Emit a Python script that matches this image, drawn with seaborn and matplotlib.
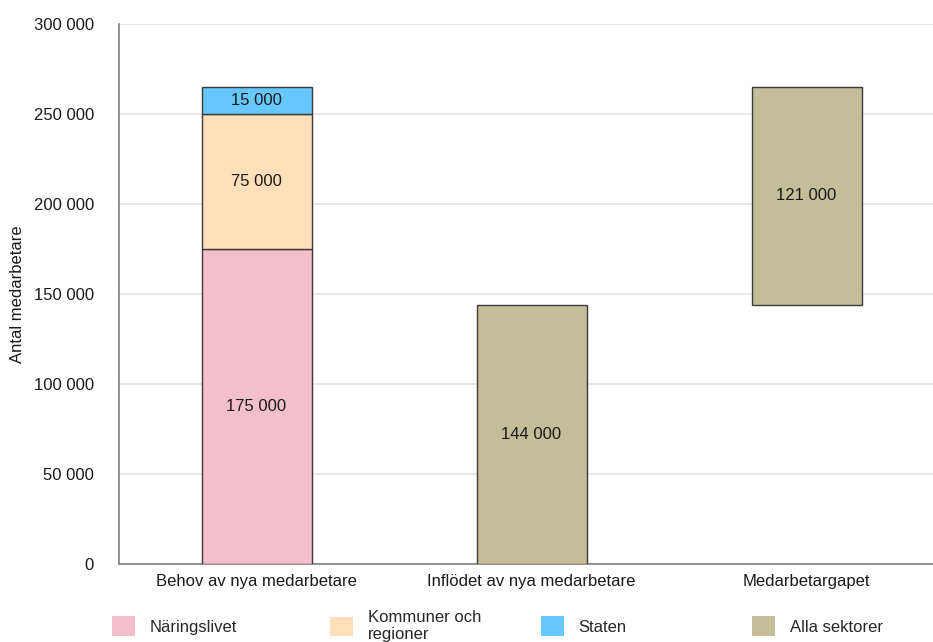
import matplotlib
matplotlib.use("Agg")
import matplotlib.pyplot as plt
import matplotlib.patches as mpatches
import matplotlib.ticker as mticker
import seaborn as sns
import pandas as pd

categories = ["Behov av nya medarbetare", "Inflödet av nya medarbetare", "Medarbetargapet"]
sectors = ["Näringslivet", "Kommuner och\nregioner", "Staten", "Alla sektorer"]
colors = ["#F3BFCC", "#FEDFB9", "#66C8FE", "#C4BD97"]

# segment values per category (stacked from bottom)
behov = [175000, 75000, 15000]
inflode = [144000]
gap_value = 121000
gap_base = 144000

y_ticks = [0, 50000, 100000, 150000, 200000, 250000, 300000]

FS = 12

sns.set_theme(style="white")
plt.rcParams["font.family"] = ["Liberation Sans", "DejaVu Sans"]

fig = plt.figure(figsize=(9.33, 6.42), dpi=100)
ax = fig.add_axes([119 / 933, 78 / 642, 1 - 119 / 933, 540 / 642])

rows = []
bottom = 0
for sec, v, c in zip(sectors[:3], behov, colors[:3]):
    rows.append(dict(cat=categories[0], sector=sec, value=v, bottom=bottom, color=c))
    bottom += v
rows.append(dict(cat=categories[1], sector=sectors[3], value=inflode[0], bottom=0, color=colors[3]))
rows.append(dict(cat=categories[2], sector=sectors[3], value=gap_value, bottom=gap_base, color=colors[3]))
df = pd.DataFrame(rows)

# draw each segment as its own layer so the stacking base can be set
for i, r in df.iterrows():
    sub = df.iloc[[i]]
    sns.barplot(data=sub, x="cat", y="value", order=categories, ax=ax, color=r["color"],
                width=0.4, edgecolor="#3a3a3a", linewidth=1.0, saturation=1, zorder=3)
    bar = ax.patches[-1]
    bar.set_y(r["bottom"])
    ax.text(bar.get_x() + bar.get_width() / 2, r["bottom"] + r["value"] / 2,
            f"{r['value']:,}".replace(",", " "), ha="center", va="center",
            fontsize=FS, color="#1a1a1a", zorder=4)

ax.set_xlim(-0.5, 2.46)
ax.set_ylim(0, 300000)
ax.set_yticks(y_ticks)
ax.yaxis.set_major_formatter(mticker.FuncFormatter(lambda v, p: f"{int(v):,}".replace(",", " ")))
ax.grid(axis="y", color="#e4e4e4", linewidth=1.2, zorder=0)
ax.set_axisbelow(True)
for s in ["top", "right"]:
    ax.spines[s].set_visible(False)
for s in ["left", "bottom"]:
    ax.spines[s].set_color("#808080")
    ax.spines[s].set_linewidth(1.2)
ax.tick_params(axis="y", length=0, pad=18, labelsize=FS, labelcolor="#1a1a1a")
ax.tick_params(axis="x", length=0, pad=7, labelsize=FS, labelcolor="#1a1a1a")
ax.set_xlabel("")
ax.set_ylabel("Antal medarbetare", fontsize=FS, color="#1a1a1a", labelpad=6)

# legend entries placed along the bottom
legend_x = [112, 330, 541, 752]
for sec, c, x in zip(sectors, colors, legend_x):
    h = mpatches.Patch(facecolor=c, edgecolor="none", label=sec)
    fig.legend(handles=[h], loc="center left", bbox_to_anchor=(x / 933, 16 / 642),
               frameon=False, fontsize=FS, handlelength=1.4, handleheight=1.4,
               handletextpad=0.85, borderpad=0, borderaxespad=0, labelspacing=0)

fig.savefig("out.png", dpi=100)
